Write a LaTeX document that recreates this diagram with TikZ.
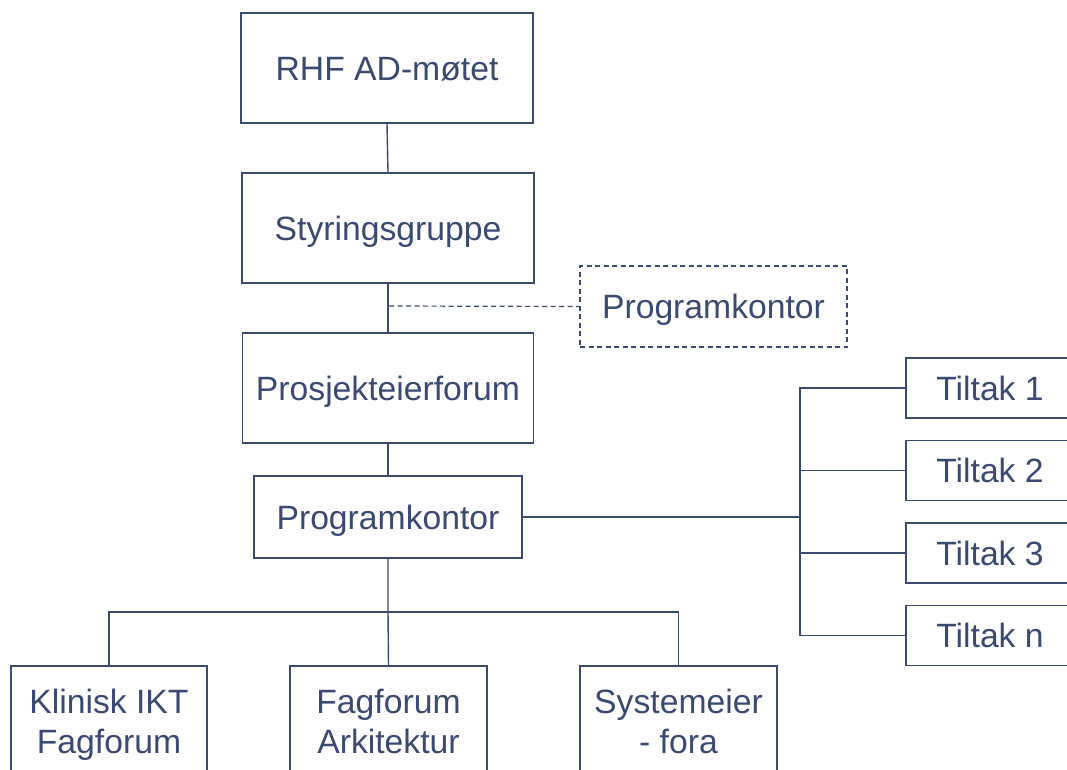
\documentclass[tikz,border=0pt]{standalone}
\usepackage{fontspec}
\setmainfont{Liberation Sans}
\definecolor{ink}{RGB}{59,74,115}
\begin{document}
\begin{tikzpicture}[x=1pt,y=-1pt,
  box/.style={draw=ink,line width=1.4pt,text=ink,fill=white,rectangle,
    inner sep=0pt,align=center,text height=24.1pt,text depth=0pt,
    font=\fontsize{33.7}{40}\selectfont},
  twoline/.style={box,text height=64.1pt,text depth=0pt},
  link/.style={draw=ink,line width=1.4pt},
  dashlink/.style={draw=ink,line width=1.2pt,dash pattern=on 5pt off 3.5pt}]
\useasboundingbox (0,0) rectangle (1067,769);
\clip (0,0) rectangle (1067,769);

% main chain
\node[box,minimum width=292pt,minimum height=110pt] (rhf)   at (387,68)    {RHF AD-møtet};
\node[box,minimum width=292pt,minimum height=110pt] (styr)  at (388,228)   {Styringsgruppe};
\node[box,minimum width=291pt,minimum height=110pt] (prosj) at (388,388)   {Prosjekteierforum};
\node[box,minimum width=268pt,minimum height=82pt]  (prog)  at (388,517)   {Programkontor};
\node[box,dashlink,minimum width=267pt,minimum height=81pt] (pkdash) at (713.5,306.5) {Programkontor};

% initiatives on the right
\node[box,minimum width=168pt,minimum height=60pt] (t1) at (990,388) {Tiltak 1};
\node[box,minimum width=168pt,minimum height=60pt] (t2) at (990,470.5) {Tiltak 2};
\node[box,minimum width=168pt,minimum height=60pt] (t3) at (990,553) {Tiltak 3};
\node[box,minimum width=168pt,minimum height=60pt] (tn) at (990,635.5) {Tiltak n};

% forums at the bottom
\node[twoline,minimum width=196pt,minimum height=110pt] (klin) at (109,721)   {Klinisk IKT\\Fagforum};
\node[twoline,minimum width=197pt,minimum height=110pt] (fag)  at (388.5,721) {Fagforum\\Arkitektur};
\node[twoline,minimum width=197pt,minimum height=110pt] (sys)  at (678.5,721) {Systemeier\\- fora};

% junction points
\coordinate (bus)  at (800,517);
\coordinate (dsrc) at (389,306);
\coordinate (hub)  at (388,612);

% vertical chain
\draw[link] (rhf.south) -- (styr.north);
\draw[link] (styr.south) -- (prosj.north);
\draw[link] (prosj.south) -- (prog.north);
\draw[dashlink] (dsrc) -- (pkdash.west);

% branch to initiatives
\draw[link] (prog.east) -- (bus);
\draw[link] (t1.west) -| (bus);
\draw[link] (tn.west) -| (bus);
\draw[link] (t2.west) -- (t2.west -| bus);
\draw[link] (t3.west) -- (t3.west -| bus);

% branch to forums
\draw[link] (prog.south) -- (hub) -- (fag.north);
\draw[link] (klin.north) |- (hub);
\draw[link] (sys.north) |- (hub);
\end{tikzpicture}
\end{document}
